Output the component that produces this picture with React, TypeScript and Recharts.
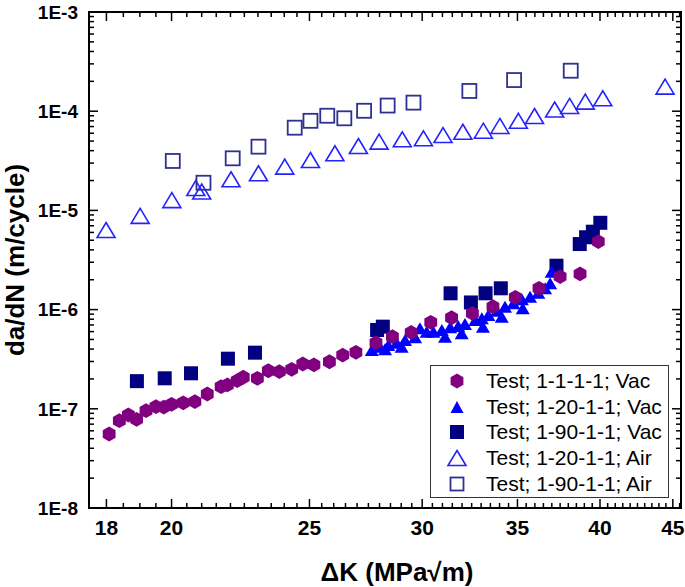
import React from "react";
import { ScatterChart, Scatter, XAxis, YAxis, ReferenceArea, Legend } from "recharts";

// ΔK (MPa√m) and da/dN (m/cycle)
const vac111K = [18.08, 18.38, 18.65, 18.9, 19.19, 19.5, 19.75, 20.0, 20.38, 20.77, 21.19, 21.67, 21.89, 22.24, 22.46, 22.98, 23.39, 23.81, 24.29, 24.73, 25.18, 25.82, 26.38, 26.95, 27.84, 28.59, 29.47, 30.42, 31.46, 32.54, 33.64, 34.88, 36.24, 37.5, 38.73, 39.89];
const vac111Rate = [5.57e-8, 7.59e-8, 8.66e-8, 7.84e-8, 9.57e-8, 1.05e-7, 1.04e-7, 1.11e-7, 1.15e-7, 1.18e-7, 1.41e-7, 1.67e-7, 1.74e-7, 1.92e-7, 2.08e-7, 2.03e-7, 2.42e-7, 2.37e-7, 2.5e-7, 2.83e-7, 2.77e-7, 2.98e-7, 3.48e-7, 3.71e-7, 4.64e-7, 5.33e-7, 5.9e-7, 7.45e-7, 8.28e-7, 9.17e-7, 1.07e-6, 1.33e-6, 1.64e-6, 2.15e-6, 2.29e-6, 4.84e-6];

const vac120K = [27.65, 28.02, 28.25, 28.4, 28.79, 29.02, 29.18, 29.66, 29.89, 30.22, 30.55, 30.97, 31.13, 31.39, 31.8, 31.98, 32.15, 32.69, 33.04, 33.1, 33.39, 33.85, 34.12, 34.3, 34.77, 35.25, 35.3, 35.72, 36.2, 36.6, 36.9, 36.99];
const vac120Rate = [3.92e-7, 4.23e-7, 3.98e-7, 4.4e-7, 4.64e-7, 4.23e-7, 4.94e-7, 5.26e-7, 6.48e-7, 5.98e-7, 5.98e-7, 6.22e-7, 5.33e-7, 6.63e-7, 6.84e-7, 5.77e-7, 7.16e-7, 7.85e-7, 8.17e-7, 6.73e-7, 8.83e-7, 9.75e-7, 8.48e-7, 1.07e-6, 1.16e-6, 1.27e-6, 1.03e-6, 1.35e-6, 1.48e-6, 1.64e-6, 1.84e-6, 2.41e-6];

const vac190K = [18.91, 19.78, 20.64, 21.91, 22.89, 27.89, 28.15, 31.41, 32.46, 33.24, 34.07, 37.28, 38.71, 39.11, 39.54, 40.02];
const vac190Rate = [1.9e-7, 2.03e-7, 2.28e-7, 3.2e-7, 3.68e-7, 6.23e-7, 6.73e-7, 1.46e-6, 1.18e-6, 1.46e-6, 1.64e-6, 2.77e-6, 4.58e-6, 5.36e-6, 6.1e-6, 7.5e-6];

const air120K = [17.99, 19.01, 20.01, 20.8, 21.0, 22.02, 23.02, 24.02, 25.04, 26.05, 27.06, 27.98, 29.05, 30.06, 31.03, 32.04, 33.12, 34.02, 35.05, 35.98, 37.17, 38.08, 39.06, 40.18, 44.44];
const air120Rate = [6.34e-6, 8.8e-6, 1.27e-5, 1.68e-5, 1.55e-5, 2.06e-5, 2.37e-5, 2.76e-5, 3.22e-5, 3.77e-5, 4.46e-5, 4.93e-5, 5.21e-5, 5.33e-5, 5.75e-5, 6.21e-5, 6.36e-5, 7.1e-5, 8.0e-5, 8.95e-5, 1.04e-4, 1.13e-4, 1.25e-4, 1.35e-4, 1.77e-4];

const air190K = [20.04, 21.06, 22.08, 23.02, 24.41, 25.04, 25.73, 26.45, 27.31, 28.37, 29.58, 32.38, 34.81, 38.15];
const air190Rate = [3.15e-5, 1.9e-5, 3.35e-5, 4.39e-5, 6.82e-5, 8.0e-5, 9.0e-5, 8.48e-5, 1.01e-4, 1.14e-4, 1.22e-4, 1.6e-4, 2.06e-4, 2.56e-4];

const xMajorTicks = [18, 20, 25, 30, 35, 40, 45];
const yMajorTicks = [1e-8, 1e-7, 1e-6, 1e-5, 1e-4, 1e-3];

const X_DOMAIN = [17.5, 45.6];
const Y_DOMAIN = [1e-8, 1e-3];

const W = 685;
const H = 587;
const MARGIN = { top: 12, right: 4, bottom: 49, left: 29 };
const Y_AXIS_W = 60;
const X_AXIS_H = 30;
const PLOT_LEFT = MARGIN.left + Y_AXIS_W;
const PLOT_RIGHT = W - MARGIN.right;
const PLOT_TOP = MARGIN.top;
const PLOT_BOTTOM = H - MARGIN.bottom - X_AXIS_H;

const FONT = "'Liberation Sans', Arial, sans-serif";

// minor ticks: every 0.5 on x, 2..9 per decade on y
const xMinorTicks: number[] = [];
for (let v = 17.5; v <= 45.5; v += 0.5) if (!xMajorTicks.includes(v)) xMinorTicks.push(v);
const yMinorTicks: number[] = [];
for (let e = -8; e < -3; e++) for (let m = 2; m <= 9; m++) yMinorTicks.push(Number((m * Math.pow(10, e)).toPrecision(3)));

const zip = (k: number[], r: number[]) => k.map((v, i) => ({ k: v, rate: r[i] }));

const COLORS = {
  hex: "#800080",
  vacTri: "#0000ff",
  vacSq: "#000080",
  airTri: "#2323ff",
  airSq: "#2e3192",
};

function hexPoints(cx: number, cy: number, r: number) {
  return [0, 1, 2, 3, 4, 5]
    .map((i) => {
      const a = (Math.PI / 180) * (60 * i - 90);
      return `${cx + r * Math.cos(a)},${cy + r * Math.sin(a)}`;
    })
    .join(" ");
}

function triPoints(cx: number, cy: number, w: number, h: number) {
  return `${cx},${cy - h / 2} ${cx + w / 2},${cy + h / 2} ${cx - w / 2},${cy + h / 2}`;
}

const HexShape = (p: any) => <polygon points={hexPoints(p.cx, p.cy, 7.4)} fill={COLORS.hex} />;
const VacTriShape = (p: any) => <polygon points={triPoints(p.cx, p.cy, 14, 12)} fill={COLORS.vacTri} />;
const VacSqShape = (p: any) => <rect x={p.cx - 7} y={p.cy - 7} width={14} height={14} fill={COLORS.vacSq} />;
const AirTriShape = (p: any) => (
  <polygon points={triPoints(p.cx, p.cy, 18, 15)} fill="none" stroke={COLORS.airTri} strokeWidth={1.6} />
);
const AirSqShape = (p: any) => (
  <rect x={p.cx - 7} y={p.cy - 7} width={14} height={14} fill="none" stroke={COLORS.airSq} strokeWidth={1.8} />
);

const series = [
  { name: "Test; 1-1-1-1; Vac", icon: (cx: number, cy: number) => <polygon points={hexPoints(cx, cy, 7.4)} fill={COLORS.hex} /> },
  { name: "Test; 1-20-1-1; Vac", icon: (cx: number, cy: number) => <polygon points={triPoints(cx, cy, 13, 12)} fill={COLORS.vacTri} /> },
  { name: "Test; 1-90-1-1; Vac", icon: (cx: number, cy: number) => <rect x={cx - 7} y={cy - 7} width={14} height={14} fill={COLORS.vacSq} /> },
  { name: "Test; 1-20-1-1; Air", icon: (cx: number, cy: number) => <polygon points={triPoints(cx, cy, 18, 15)} fill="none" stroke={COLORS.airTri} strokeWidth={1.6} /> },
  { name: "Test; 1-90-1-1; Air", icon: (cx: number, cy: number) => <rect x={cx - 6.5} y={cy - 6.5} width={13} height={13} fill="none" stroke={COLORS.airSq} strokeWidth={1.8} /> },
];

function XTick(props: any) {
  const { x, payload } = props;
  const v = payload.value;
  const major = xMajorTicks.includes(v);
  const len = major ? 9 : 5;
  return (
    <g>
      <line x1={x} x2={x} y1={PLOT_BOTTOM} y2={PLOT_BOTTOM - len} stroke="#000" strokeWidth={1.5} />
      <line x1={x} x2={x} y1={PLOT_TOP} y2={PLOT_TOP + len} stroke="#000" strokeWidth={1.5} />
      {major && (
        <text x={x} y={PLOT_BOTTOM + 27} textAnchor="middle" fontFamily={FONT} fontWeight="bold" fontSize={21} fill="#000">
          {v}
        </text>
      )}
    </g>
  );
}

function YTick(props: any) {
  const { y, payload } = props;
  const v = payload.value;
  const major = yMajorTicks.some((t) => Math.abs(t - v) / t < 1e-6);
  const len = major ? 9 : 5;
  return (
    <g>
      <line x1={PLOT_LEFT} x2={PLOT_LEFT + len} y1={y} y2={y} stroke="#000" strokeWidth={1.5} />
      <line x1={PLOT_RIGHT} x2={PLOT_RIGHT - len} y1={y} y2={y} stroke="#000" strokeWidth={1.5} />
      {major && (
        <text x={PLOT_LEFT - 11} y={y} dy="0.36em" textAnchor="end" fontFamily={FONT} fontWeight="bold" fontSize={19} fill="#000">
          {"1E" + Math.round(Math.log10(v))}
        </text>
      )}
    </g>
  );
}

function LegendBox() {
  return (
    <div
      style={{
        position: "relative",
        width: 239,
        height: 133,
        boxSizing: "border-box",
        border: "1.5px solid #333",
        background: "#fff",
        fontFamily: FONT,
        fontSize: 21,
        color: "#000",
      }}
    >
      {series.map((s, i) => (
        <div
          key={s.name}
          style={{ position: "absolute", left: 0, top: 2 + i * 25.7, height: 26, lineHeight: "26px", whiteSpace: "nowrap" }}
        >
          <svg width={50} height={26} style={{ position: "absolute", left: 0, top: 0 }}>
            {s.icon(26, 13)}
          </svg>
          <span style={{ position: "absolute", left: 55 }}>{s.name}</span>
        </div>
      ))}
    </div>
  );
}

export default function App() {
  return (
    <div style={{ position: "absolute", left: 0, top: 0, width: W, height: H, background: "#fff", fontFamily: FONT }}>
      <ScatterChart width={W} height={H} margin={MARGIN}>
        <XAxis
          type="number"
          dataKey="k"
          scale="log"
          domain={X_DOMAIN}
          allowDataOverflow
          ticks={[...xMajorTicks, ...xMinorTicks].sort((a, b) => a - b)}
          interval={0}
          height={X_AXIS_H}
          tickLine={false}
          axisLine={{ stroke: "#000", strokeWidth: 2 }}
          tick={(p: any) => <XTick {...p} />}
          label={{
            content: () => (
              <text x={397} y={581} textAnchor="middle" fontFamily={FONT} fontWeight="bold" fontSize={26} fill="#000">
                ΔK (MPa√m)
              </text>
            ),
          }}
        />
        <YAxis
          type="number"
          dataKey="rate"
          scale="log"
          domain={Y_DOMAIN}
          allowDataOverflow
          ticks={[...yMajorTicks, ...yMinorTicks].sort((a, b) => a - b)}
          interval={0}
          width={Y_AXIS_W}
          tickLine={false}
          axisLine={{ stroke: "#000", strokeWidth: 2 }}
          tick={(p: any) => <YTick {...p} />}
          label={{
            content: () => (
              <text
                x={24}
                y={(PLOT_TOP + PLOT_BOTTOM) / 2}
                transform={`rotate(-90, 24, ${(PLOT_TOP + PLOT_BOTTOM) / 2})`}
                textAnchor="middle"
                fontFamily={FONT}
                fontWeight="bold"
                fontSize={26}
                fill="#000"
              >
                da/dN (m/cycle)
              </text>
            ),
          }}
        />
        <ReferenceArea
          x1={X_DOMAIN[0]}
          x2={X_DOMAIN[1]}
          y1={Y_DOMAIN[0]}
          y2={Y_DOMAIN[1]}
          fill="none"
          stroke="#000"
          strokeWidth={2}
          ifOverflow="visible"
        />
        <Scatter name={series[3].name} data={zip(air120K, air120Rate)} shape={AirTriShape} isAnimationActive={false} />
        <Scatter name={series[4].name} data={zip(air190K, air190Rate)} shape={AirSqShape} isAnimationActive={false} />
        <Scatter name={series[2].name} data={zip(vac190K, vac190Rate)} shape={VacSqShape} isAnimationActive={false} />
        <Scatter name={series[1].name} data={zip(vac120K, vac120Rate)} shape={VacTriShape} isAnimationActive={false} />
        <Scatter name={series[0].name} data={zip(vac111K, vac111Rate)} shape={HexShape} isAnimationActive={false} />
        <Legend
          layout="horizontal"
          verticalAlign="middle"
          align="center"
          content={() => <LegendBox />}
          wrapperStyle={{ position: "absolute", left: 430, top: 365, width: 239, height: 133 }}
        />
      </ScatterChart>
    </div>
  );
}
